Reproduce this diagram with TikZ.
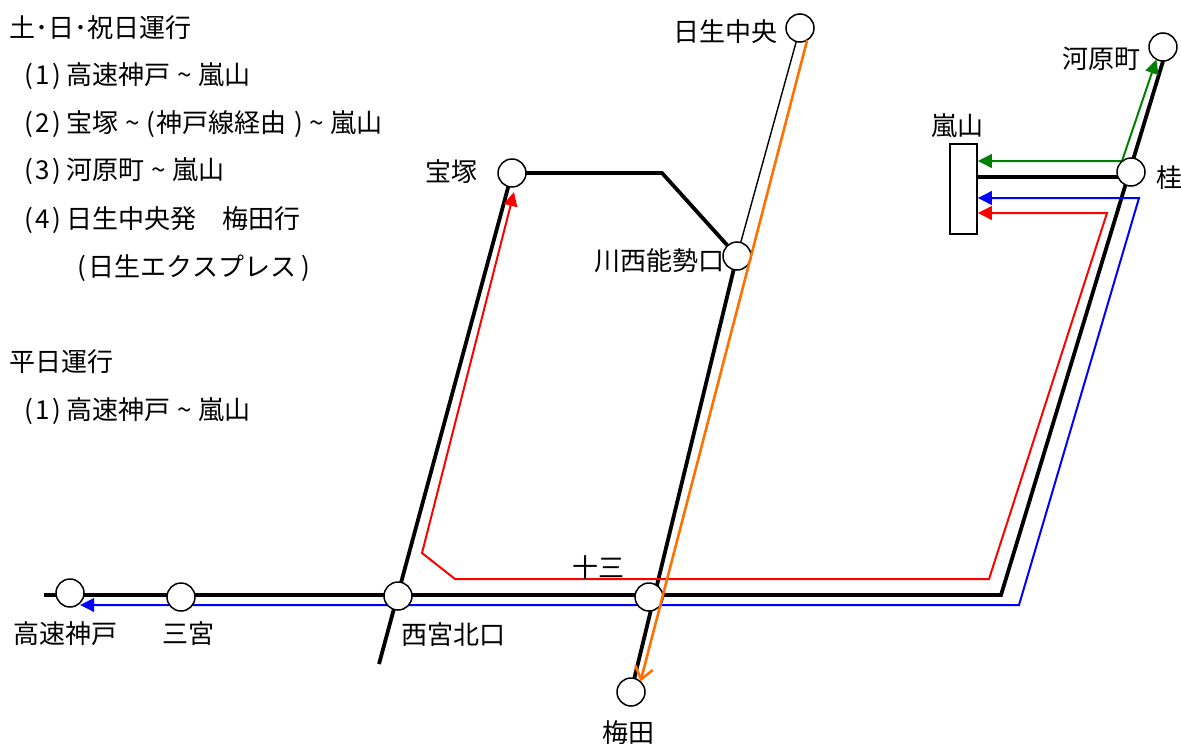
\documentclass[tikz,border=0pt]{standalone}
\usepackage{fontspec}
\setmainfont{Noto Sans CJK JP}
\usepackage{tikz}
\usetikzlibrary{arrows.meta}
\definecolor{kobeblue}{RGB}{0,0,255}
\definecolor{takared}{RGB}{255,0,0}
\definecolor{kyotogreen}{RGB}{0,128,0}
\definecolor{nisseiorange}{RGB}{255,112,0}
\newcommand{\bango}[1]{(\hspace{.1em}#1\hspace{.1em})\hspace{.2em}}
\newcommand{\kara}{\hspace{.25em}\textasciitilde\hspace{.25em}}

\begin{document}
\begin{tikzpicture}[x=1pt, y=-1pt,
  font=\fontsize{26}{30}\selectfont,
  >={Triangle[length=14pt, width=13.5pt]},
  stop/.style={circle, minimum size=28pt, inner sep=0pt},
  station/.style={stop, draw, line width=1.5pt, fill=white},
  terminal/.style={rectangle, draw, line width=1.5pt, fill=white,
    minimum width=27pt, minimum height=90pt, inner sep=0pt},
  track/.style={line width=3.8pt},
  thin track/.style={line width=1.4pt},
  route/.style={line width=2pt, <->}]
\useasboundingbox (0,0) rectangle (1181,744);
% the stations, circles drawn later
\node[stop] (kobe) at (70,593) {};
\node[stop] (sannomiya) at (181,597) {};
\node[stop] (nishinomiya) at (398,596) {};
\node[stop] (juso) at (649,597) {};
\node[stop] (umeda) at (631,692) {};
\node[stop] (takarazuka) at (512,173) {};
\node[stop] (kawanishi) at (737,256) {};
\node[stop] (nissei) at (800,28) {};
\node[stop] (katsura) at (1131,172) {};
\node[stop] (kawaramachi) at (1163,47) {};
\node[terminal] (arashiyama) at (963.5,189) {};
% free ends and bends of the tracks
\coordinate (kobe end) at (44,595);
\coordinate (kyoto corner) at (1001,595);
\coordinate (imazu end) at (379,664);
\coordinate (takarazuka bend) at (662,173);
% tracks
\draw[track] (kobe end) -- (kyoto corner) -- (kawaramachi.south);
\draw[track] (imazu end) -- (takarazuka) -- (takarazuka bend) -- (kawanishi);
\draw[track] (umeda) -- (kawanishi);
\draw[thin track] (kawanishi) -- (nissei);
\draw[track] (arashiyama.east |- katsura.200) -- (katsura.200);
% (1) kobe - arashiyama
\coordinate (blue top) at (1139,198);
\coordinate (blue corner) at (1019,605);
\draw[route, kobeblue] (arashiyama.east |- blue top) -- (blue top)
  -- (blue corner) -- (blue corner -| kobe.-45);
% (2) takarazuka - arashiyama
\coordinate (red tip) at (514,192);
\coordinate (red left) at (422,553);
\coordinate (red bend) at (455,579);
\coordinate (red corner) at (989,579);
\coordinate (red top) at (1107,213);
\draw[route, takared] (red tip) -- (red left) -- (red bend)
  -- (red corner) -- (red top) -- (arashiyama.east |- red top);
% (3) kawaramachi - arashiyama
\coordinate (green bend) at (1122,161);
\draw[route, kyotogreen] (arashiyama.east |- green bend) -- (green bend)
  -- (kawaramachi.242);
% station circles
\foreach \s in {kobe, sannomiya, nishinomiya, juso, umeda,
                takarazuka, kawanishi, nissei, katsura, kawaramachi}
  \node[station] at (\s) {};
% (4) nissei chuo - umeda
\draw[line width=2.6pt, nisseiorange,
  -{Straight Barb[length=12pt, width=18pt]}] (nissei.-60) -- (umeda.48);
% station names
\node (kobe name) at (65,634) {高速神戸};
\node (sannomiya name) at (188,634) {三宮};
\node (nishinomiya name) at (453,635) {西宮北口};
\node (juso name) at (598,568) {十三};
\node (umeda name) at (628,733) {梅田};
\node (takarazuka name) at (451,172) {宝塚};
\node (kawanishi name) at (659,261) {川西能勢口};
\node (nissei name) at (725,32) {日生中央};
\node (kawaramachi name) at (1101,59) {河原町};
\node (arashiyama name) at (957,126) {嵐山};
\node[anchor=west] (katsura name) at (1153,178) {桂};
% legend
\node[anchor=west] (holiday) at (6,28) {土･日･祝日運行};
\node[anchor=west] (holiday one) at (21,76) {\bango{1}高速神戸\kara 嵐山};
\node[anchor=west] (holiday two) at (21,124)
  {\bango{2}宝塚\kara(\hspace{.05em}神戸線経由\hspace{.3em})\kara 嵐山};
\node[anchor=west] (holiday three) at (21,171) {\bango{3}河原町\kara 嵐山};
\node[anchor=west] (holiday four) at (21,220) {\bango{4}日生中央発\hspace{1em}梅田行};
\node[anchor=west] (holiday four note) at (74,268)
  {(\hspace{.1em}日生エクスプレス\hspace{.2em})};
\node[anchor=west] (weekday) at (6,362) {平日運行};
\node[anchor=west] (weekday one) at (21,411) {\bango{1}高速神戸\kara 嵐山};
\end{tikzpicture}
\end{document}
